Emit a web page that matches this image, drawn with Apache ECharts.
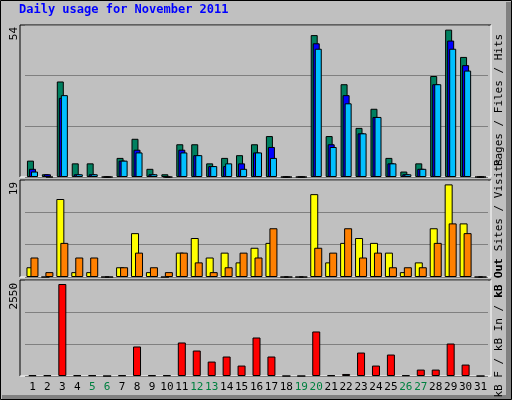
<!DOCTYPE html>
<html>
<head>
<meta charset="utf-8">
<script src="https://cdn.jsdelivr.net/npm/echarts@6/dist/echarts.min.js"></script>
<style>
  html, body { margin: 0; padding: 0; background: #c0c0c0; }
  #chart { width: 512px; height: 400px; }
</style>
</head>
<body>
<div id="chart"></div>
<script>
const days = ['1','2','3','4','5','6','7','8','9','10','11','12','13','14','15','16','17','18','19','20','21','22','23','24','25','26','27','28','29','30','31']
const weekend = ['5','6','12','13','19','20','26','27']

const hits  = [6,1,35,5,5,0,7,14,3,1,12,12,5,7,8,12,15,0,0,52,15,34,18,25,7,2,5,37,54,44,0]
const files = [3,1,29,1,1,0,6,10,1,0,10,8,4,4,5,9,11,0,0,49,12,30,16,22,5,1,3,34,50,41,0]
const pages = [2,0,30,1,1,0,6,9,1,0,9,8,4,5,3,9,7,0,0,47,11,27,16,22,5,1,3,34,47,39,0]

const visits = [2,0,16,1,1,0,2,9,1,0,5,8,4,5,3,6,7,0,0,17,3,7,8,7,5,1,3,10,19,11,0]
const sites  = [4,1,7,4,4,0,2,5,2,1,5,3,1,2,5,4,10,0,0,6,5,10,4,5,2,2,2,7,11,9,0]

const kbF = [20,20,2550,20,20,0,20,818,20,20,929,706,400,540,289,1067,540,0,0,1234,20,56,650,289,595,20,178,178,900,317,0]

const chart = echarts.init(document.getElementById('chart'))
const font = 'DejaVu Sans Mono'

// panel frames: [top, bottom]
const panels = [[25, 177], [180, 277], [280, 376]]
const gridOf = p => ({ left: 25, width: 463, top: p[0], height: p[1] - p[0] })

function yAx(idx, max) {
  return {
    gridIndex: idx, min: 0, max: max, interval: max / 3,
    axisLabel: { show: false }, axisLine: { show: false }, axisTick: { show: false },
    splitLine: { lineStyle: { color: '#808080', width: 1 } }
  }
}
function xAx(idx, showLabels) {
  return {
    type: 'category', gridIndex: idx, data: days,
    axisLine: { show: false }, axisTick: { show: false },
    axisLabel: {
      show: showLabels, fontFamily: font, fontSize: 11, interval: 0, margin: 6,
      color: v => weekend.includes(v) ? '#008040' : '#000000'
    }
  }
}
function bar(name, data, color, idx, width, gap) {
  return {
    name, type: 'bar', data, xAxisIndex: idx, yAxisIndex: idx,
    barWidth: width, barGap: gap, animation: false,
    itemStyle: { color, borderColor: '#000', borderWidth: 1 }
  }
}

const frames = []
panels.forEach(p => {
  frames.push({ type: 'line', shape: { x1: 20, y1: p[0], x2: 491, y2: p[0] }, style: { stroke: '#000', lineWidth: 1 } })
  frames.push({ type: 'line', shape: { x1: 20, y1: p[0], x2: 20, y2: p[1] }, style: { stroke: '#000', lineWidth: 1 } })
  frames.push({ type: 'line', shape: { x1: 491, y1: p[0], x2: 491, y2: p[1] }, style: { stroke: '#fff', lineWidth: 1 } })
  frames.push({ type: 'line', shape: { x1: 20, y1: p[1], x2: 491, y2: p[1] }, style: { stroke: '#fff', lineWidth: 1 } })
})

function vtext(x, y, text, rich) {
  return {
    type: 'text', x, y, rotation: Math.PI / 2, z: 10,
    style: { text, rich, font: '11px ' + font, align: 'right', verticalAlign: 'middle' }
  }
}

const rich = {
  k: { fontFamily: font, fontSize: 11, color: '#000' },
  p: { fontFamily: font, fontSize: 11, color: '#00c0ff' },
  f: { fontFamily: font, fontSize: 11, color: '#0000ff' },
  h: { fontFamily: font, fontSize: 11, color: '#008060' },
  v: { fontFamily: font, fontSize: 11, color: '#ffff00' },
  s: { fontFamily: font, fontSize: 11, color: '#ff8000' },
  o: { fontFamily: font, fontSize: 11, color: '#008040' },
  r: { fontFamily: font, fontSize: 11, color: '#ff0000' }
}

chart.setOption({
  backgroundColor: '#c0c0c0',
  animation: false,
  grid: panels.map(gridOf),
  xAxis: [xAx(0, false), xAx(1, false), xAx(2, true)],
  yAxis: [yAx(0, 55.7), yAx(1, 19.9), yAx(2, 2661)],
  series: [
    bar('Hits', hits, '#008060', 0, 7, '-71%'),
    bar('Files', files, '#0000ff', 0, 7, '-71%'),
    bar('Pages', pages, '#00c0ff', 0, 7, '-71%'),
    bar('Visits', visits, '#ffff00', 1, 8, '-50%'),
    bar('Sites', sites, '#ff8000', 1, 8, '-50%'),
    bar('kB F', kbF, '#ff0000', 2, 8, '0%')
  ],
  graphic: [
    { type: 'rect', shape: { x: 0.5, y: 0.5, width: 511, height: 399 }, style: { fill: null, stroke: '#000', lineWidth: 1 } },
    { type: 'rect', shape: { x: 506, y: 2, width: 5, height: 397 }, style: { fill: '#808080' } },
    { type: 'rect', shape: { x: 2, y: 395, width: 509, height: 4 }, style: { fill: '#808080' } },
    { type: 'text', x: 19, y: 10, style: { text: 'Daily usage for November 2011', font: 'bold 12px ' + font, fill: '#0000ff', verticalAlign: 'middle' } },
    vtext(14, 27, '54', { k: rich.k }),
    vtext(14, 182, '19', { k: rich.k }),
    vtext(14, 283, '2550', { k: rich.k }),
    ...frames,
    { type: 'text', x: 499, y: 100, rotation: Math.PI / 2, style: { text: '{p|Pages}{k| / }{f|Files}{k| / }{h|Hits}', rich, align: 'center', verticalAlign: 'middle' } },
    { type: 'text', x: 499, y: 228, rotation: Math.PI / 2, style: { text: '{o|kB Out}{k| }{s|Sites}{k| / }{v|Visits}', rich, align: 'center', verticalAlign: 'middle' } },
    { type: 'text', x: 499, y: 328, rotation: Math.PI / 2, style: { text: '{r|kB F}{k| / }{f|kB In}{k| / }{o|kB Out}', rich, align: 'center', verticalAlign: 'middle' } }
  ]
})
</script>
</body>
</html>
